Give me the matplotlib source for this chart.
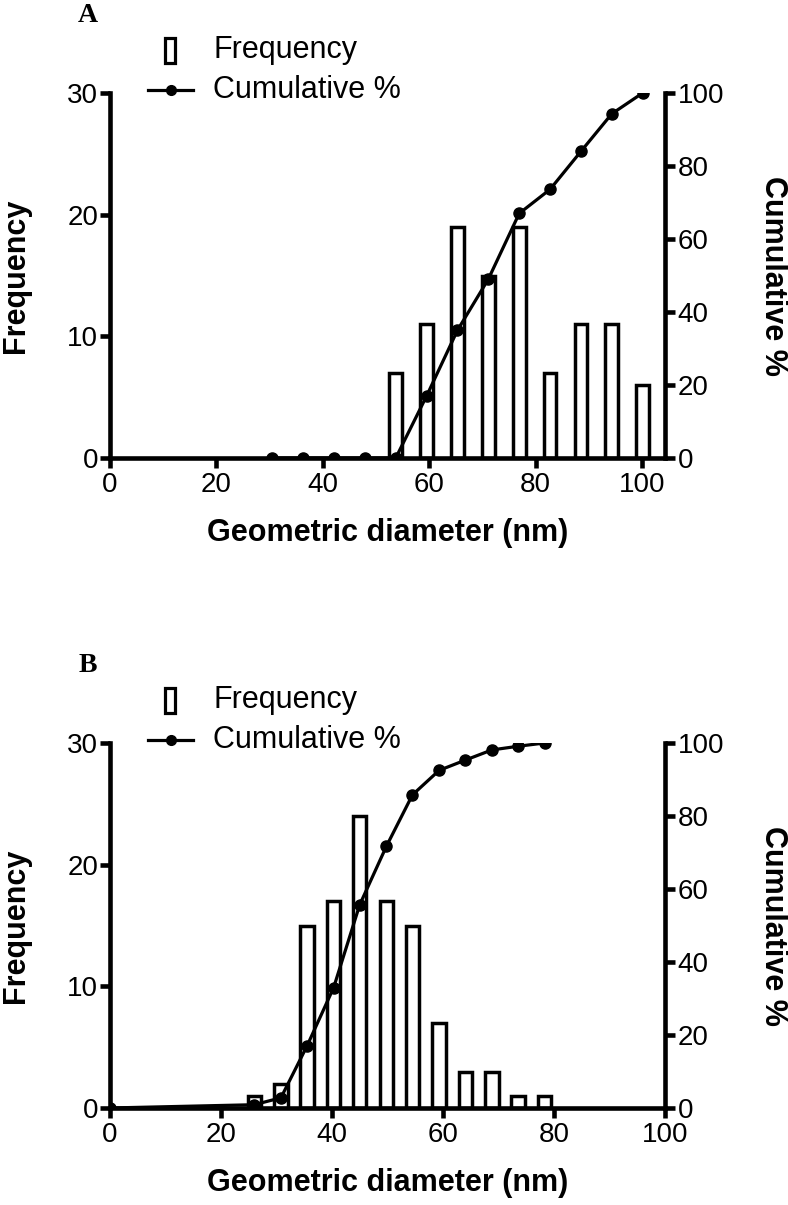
import matplotlib
matplotlib.use("Agg")
import matplotlib.pyplot as plt
from matplotlib.lines import Line2D
from matplotlib.patches import Rectangle

plt.rcParams["font.family"] = ["Liberation Sans", "DejaVu Sans"]

# ---------------------------------------------------------------------------
# Data
# ---------------------------------------------------------------------------
a_bin_centers = [53.7, 59.5, 65.3, 71.1, 76.9, 82.7, 88.5, 94.3, 100.1]
a_frequency = [7, 11, 19, 15, 19, 7, 11, 11, 6]
a_cum_x = [30.5, 36.3, 42.1, 47.9, 53.7, 59.5, 65.3, 71.1, 76.9, 82.7, 88.5, 94.3, 100.1]
a_cum_pct = [0, 0, 0, 0, 0, 17, 35, 49, 67, 73.6, 84, 94.3, 100]

b_bin_centers = [26.0, 30.8, 35.5, 40.3, 45.0, 49.8, 54.5, 59.3, 64.0, 68.8, 73.5, 78.3]
b_frequency = [1, 2, 15, 17, 24, 17, 15, 7, 3, 3, 1, 1]
b_cum_x = [0, 26.0, 30.8, 35.5, 40.3, 45.0, 49.8, 54.5, 59.3, 64.0, 68.8, 73.5, 78.3]
b_cum_pct = [0, 0.9, 2.8, 17, 33, 55.7, 71.7, 85.8, 92.5, 95.3, 98.1, 99.1, 100]

x_ticks = [0, 20, 40, 60, 80, 100]
freq_ticks = [0, 10, 20, 30]
pct_ticks = [0, 20, 40, 60, 80, 100]

W, H = 788, 1205
DPI = 100
SPINE_LW = 3.3
TICK_FS = 20
LABEL_FS = 22


def _fx(px):
    return px / W


def _fy(py):
    return 1 - py / H


def _panel(fig, top_px, letter, centers, freq, cum_x, cum_pct, xmax):
    zero_px = top_px + 365
    ax = fig.add_axes([_fx(110), _fy(zero_px), _fx(665) - _fx(110), _fy(top_px) - _fy(zero_px)])
    ax2 = ax.twinx()

    ax.bar(centers, freq, width=2.4, facecolor="white", edgecolor="black",
           linewidth=2.5, zorder=2)
    ax2.plot(cum_x, cum_pct, color="black", linewidth=2.3, marker="o",
             markersize=8, zorder=3)

    ax.set_xlim(0, xmax)
    ax.set_ylim(0, 30)
    ax2.set_ylim(0, 100)
    ax.set_xticks(x_ticks)
    ax.set_yticks(freq_ticks)
    ax2.set_yticks(pct_ticks)

    for a in (ax, ax2):
        a.spines["top"].set_visible(False)
        for s in a.spines.values():
            s.set_linewidth(SPINE_LW)
        a.tick_params(width=SPINE_LW, length=7, labelsize=TICK_FS)
    ax.spines["right"].set_visible(False)
    ax2.spines["left"].set_visible(False)
    ax2.spines["bottom"].set_visible(False)
    ax.tick_params(axis="y", pad=1.5)
    ax2.tick_params(axis="y", pad=2)
    ax.tick_params(axis="x", pad=3)

    ax.set_xlabel("Geometric diameter (nm)", fontsize=LABEL_FS, fontweight="bold")
    ax.xaxis.set_label_coords(0.5, -0.205)
    ax.xaxis.label.set_va("center")
    ax.set_ylabel("Frequency", fontsize=LABEL_FS, fontweight="bold")
    ax.yaxis.set_label_coords(-0.17, 0.5)
    ax.yaxis.label.set_va("center")
    ax2.set_ylabel("Cumulative %", fontsize=LABEL_FS, fontweight="bold",
                   rotation=-90)
    ax2.yaxis.set_label_coords(1.195, 0.5)
    ax2.yaxis.label.set_va("center")

    # panel letter
    fig.text(_fx(88), _fy(top_px - 77), letter, fontsize=20, fontweight="bold",
             family="Liberation Serif", ha="center", va="center")

    # hand-drawn legend (tall open box + line with dot)
    fig.add_artist(Rectangle((_fx(165), _fy(top_px - 30)), _fx(10),
                             _fy(top_px - 55) - _fy(top_px - 30),
                             facecolor="white", edgecolor="black", linewidth=2.3,
                             transform=fig.transFigure))
    fig.add_artist(Line2D([_fx(148), _fx(193)], [_fy(top_px - 3)] * 2,
                          color="black", linewidth=2.3,
                          transform=fig.transFigure))
    fig.add_artist(Line2D([_fx(170.5)], [_fy(top_px - 3)], color="black",
                          marker="o", markersize=7, transform=fig.transFigure))
    fig.text(_fx(213), _fy(top_px - 43), "Frequency", fontsize=LABEL_FS,
             va="center", ha="left")
    fig.text(_fx(213), _fy(top_px - 3), "Cumulative %", fontsize=LABEL_FS,
             va="center", ha="left")
    return ax, ax2


fig = plt.figure(figsize=(W / DPI, H / DPI), dpi=DPI)
_panel(fig, 93, "A", a_bin_centers, a_frequency, a_cum_x, a_cum_pct, 104.3)
_panel(fig, 743, "B", b_bin_centers, b_frequency, b_cum_x, b_cum_pct, 100)

fig.savefig("out.png", dpi=DPI)
